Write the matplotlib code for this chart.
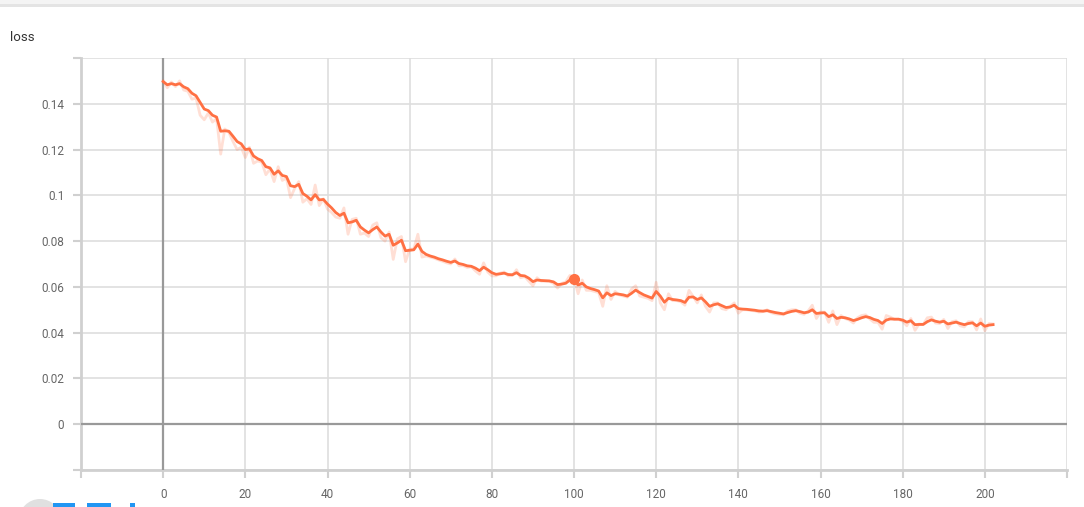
import numpy as np
import matplotlib
matplotlib.use("Agg")
from matplotlib import pyplot as plt
from matplotlib.patches import Ellipse, Rectangle

plt.rcParams['font.family'] = ['Roboto', 'DejaVu Sans']

# smoothed loss (bold line), one value per step 0..202
loss_smoothed = [
    0.1497, 0.1483, 0.1488, 0.1483, 0.1488, 0.1474, 0.1466, 0.1446, 0.1435, 0.1406,
    0.1377, 0.1370, 0.1350, 0.1342, 0.1280, 0.1282, 0.1280, 0.1258, 0.1235, 0.1225,
    0.1200, 0.1203, 0.1172, 0.1160, 0.1152, 0.1125, 0.1120, 0.1092, 0.1107, 0.1087,
    0.1082, 0.1042, 0.1038, 0.1048, 0.1008, 0.0996, 0.0980, 0.1003, 0.0980, 0.0982,
    0.0962, 0.0945, 0.0925, 0.0912, 0.0922, 0.0880, 0.0884, 0.0891, 0.0862, 0.0848,
    0.0836, 0.0850, 0.0862, 0.0840, 0.0822, 0.0830, 0.0782, 0.0792, 0.0804, 0.0758,
    0.0760, 0.0762, 0.0787, 0.0755, 0.0742, 0.0735, 0.0730, 0.0723, 0.0718, 0.0712,
    0.0707, 0.0713, 0.0702, 0.0698, 0.0692, 0.0690, 0.0682, 0.0671, 0.0686, 0.0675,
    0.0662, 0.0655, 0.0657, 0.0660, 0.0654, 0.0653, 0.0662, 0.0650, 0.0648, 0.0638,
    0.0623, 0.0630, 0.0628, 0.0627, 0.0626, 0.0622, 0.0610, 0.0612, 0.0616, 0.0630,
    0.0634, 0.0608, 0.0616, 0.0600, 0.0593, 0.0588, 0.0582, 0.0552, 0.0574, 0.0562,
    0.0570, 0.0568, 0.0565, 0.0560, 0.0572, 0.0586, 0.0575, 0.0565, 0.0558, 0.0551,
    0.0580, 0.0560, 0.0533, 0.0550, 0.0545, 0.0543, 0.0540, 0.0532, 0.0555, 0.0556,
    0.0545, 0.0552, 0.0535, 0.0515, 0.0522, 0.0526, 0.0518, 0.0510, 0.0512, 0.0520,
    0.0505, 0.0503, 0.0502, 0.0500, 0.0498, 0.0495, 0.0494, 0.0496, 0.0492, 0.0488,
    0.0485, 0.0482, 0.0488, 0.0493, 0.0496, 0.0492, 0.0487, 0.0490, 0.0500, 0.0484,
    0.0486, 0.0487, 0.0470, 0.0478, 0.0462, 0.0467, 0.0465, 0.0460, 0.0453, 0.0458,
    0.0465, 0.0470, 0.0466, 0.0458, 0.0453, 0.0440, 0.0455, 0.0460, 0.0459, 0.0459,
    0.0455, 0.0446, 0.0452, 0.0435, 0.0436, 0.0436, 0.0448, 0.0456, 0.0450, 0.0446,
    0.0450, 0.0438, 0.0442, 0.0446, 0.0440, 0.0435, 0.0440, 0.0443, 0.0430, 0.0442,
    0.0428, 0.0433, 0.0435,
]

# raw loss (faint line)
loss_raw = [
    0.1500, 0.1470, 0.1495, 0.1475, 0.1500, 0.1460, 0.1455, 0.1420, 0.1425, 0.1350,
    0.1330, 0.1360, 0.1320, 0.1335, 0.1180, 0.1290, 0.1275, 0.1235, 0.1200, 0.1210,
    0.1165, 0.1210, 0.1140, 0.1150, 0.1145, 0.1090, 0.1115, 0.1060, 0.1125, 0.1065,
    0.1075, 0.0990, 0.1030, 0.1060, 0.0970, 0.0985, 0.0960, 0.1045, 0.0955, 0.0985,
    0.0940, 0.0925, 0.0905, 0.0900, 0.0945, 0.0830, 0.0895, 0.0900, 0.0830, 0.0835,
    0.0820, 0.0870, 0.0880, 0.0815, 0.0800, 0.0840, 0.0720, 0.0810, 0.0820, 0.0710,
    0.0765, 0.0765, 0.0830, 0.0730, 0.0735, 0.0730, 0.0725, 0.0718, 0.0712, 0.0705,
    0.0700, 0.0722, 0.0692, 0.0693, 0.0685, 0.0688, 0.0670, 0.0655, 0.0705, 0.0665,
    0.0648, 0.0648, 0.0660, 0.0665, 0.0648, 0.0650, 0.0675, 0.0640, 0.0645, 0.0625,
    0.0605, 0.0640, 0.0625, 0.0625, 0.0625, 0.0615, 0.0595, 0.0615, 0.0622, 0.0650,
    0.0640, 0.0570, 0.0630, 0.0585, 0.0585, 0.0580, 0.0575, 0.0515, 0.0605, 0.0545,
    0.0580, 0.0565, 0.0560, 0.0555, 0.0590, 0.0605, 0.0560, 0.0555, 0.0550, 0.0540,
    0.0620, 0.0530, 0.0500, 0.0570, 0.0540, 0.0540, 0.0535, 0.0520, 0.0585, 0.0558,
    0.0530, 0.0565, 0.0515, 0.0490, 0.0530, 0.0530, 0.0505, 0.0500, 0.0515, 0.0530,
    0.0485, 0.0500, 0.0500, 0.0497, 0.0495, 0.0490, 0.0492, 0.0500, 0.0487, 0.0482,
    0.0480, 0.0478, 0.0495, 0.0500, 0.0500, 0.0485, 0.0480, 0.0495, 0.0520, 0.0462,
    0.0490, 0.0490, 0.0445, 0.0495, 0.0435, 0.0475, 0.0462, 0.0455, 0.0442, 0.0465,
    0.0475, 0.0478, 0.0460, 0.0445, 0.0445, 0.0415, 0.0475, 0.0468, 0.0458, 0.0458,
    0.0450, 0.0430, 0.0462, 0.0410, 0.0438, 0.0436, 0.0465, 0.0468, 0.0442, 0.0440,
    0.0458, 0.0418, 0.0448, 0.0452, 0.0430, 0.0425, 0.0448, 0.0448, 0.0412, 0.0460,
    0.0408, 0.0440, 0.0438,
]

steps = list(range(len(loss_smoothed)))
highlight_step = 100

x_ticks = [-20, 0, 20, 40, 60, 80, 100, 120, 140, 160, 180, 200, 220]
y_ticks = [-0.02, 0, 0.02, 0.04, 0.06, 0.08, 0.1, 0.12, 0.14, 0.16]

color = '#ff7043'
grid_c = '#dedede'

fig = plt.figure(figsize=(10.84, 5.07), dpi=100)
ax = fig.add_axes([81 / 1084, 1 - 470 / 507, (1067 - 81) / 1084, (470 - 58) / 507])

ax.plot(steps, loss_raw, color=color, alpha=0.22, lw=2.0, zorder=3)
ax.plot(steps, loss_smoothed, color=color, lw=2.0, zorder=4)
ax.plot([highlight_step], [loss_smoothed[highlight_step]], 'o', color=color, ms=7, zorder=5)

ax.set_xlim(-20, 220)
ax.set_ylim(-0.02, 0.16)
ax.set_xticks(x_ticks)
ax.set_yticks(y_ticks)
ax.set_xticklabels(['' if t in (-20, 220) else str(t) for t in x_ticks])
ax.set_yticklabels(['' if t in (-0.02, 0.16) else f'{t:g}' for t in y_ticks])

ax.grid(True, color=grid_c, lw=1.2)
# darker zero axes drawn above the grid
ax.axhline(0, color='#999999', lw=1.6, zorder=2.7)
ax.axvline(0, color='#999999', lw=1.6, zorder=2.7)

for side in ['top', 'right']:
    ax.spines[side].set_visible(False)
for side in ['left', 'bottom']:
    ax.spines[side].set_color('#d0d0d0')
    ax.spines[side].set_linewidth(2)

ax.tick_params(axis='both', colors='#d0d0d0', length=6, width=1.5,
               labelcolor='#666666', labelsize=8.5)
ax.tick_params(axis='x', pad=7)
ax.tick_params(axis='y', pad=6)

fig.text(10 / 1084, 1 - 38 / 507, 'loss', fontsize=9.5, color='#333333', va='center')

# top header shadow
fig.add_artist(Rectangle((0, 1 - 4 / 507), 1, 4 / 507, transform=fig.transFigure,
                         color='#f4f4f4', lw=0))
fig.add_artist(Rectangle((0, 1 - 7 / 507), 1, 3 / 507, transform=fig.transFigure,
                         color='#e4e4e4', lw=0))
# partial toolbar icons at the bottom edge
fig.add_artist(Ellipse((40 / 1084, 1 - 520 / 507), 42 / 1084, 42 / 507,
                       transform=fig.transFigure, color='#e0e0e0', lw=0))
for x0, w in [(53, 22), (87, 24), (130, 5)]:
    fig.add_artist(Rectangle((x0 / 1084, 0), w / 1084, 4 / 507, transform=fig.transFigure,
                             color='#2196f3', lw=0))

plt.savefig('out.png', dpi=100)
